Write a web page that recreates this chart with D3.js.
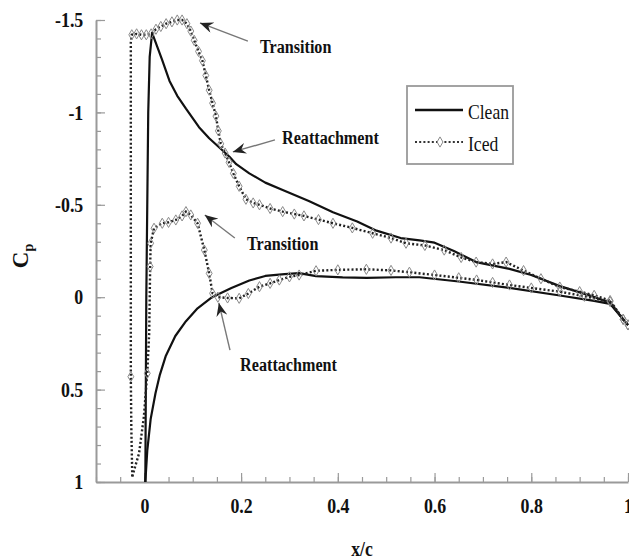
<!DOCTYPE html>
<html>
<head>
<meta charset="utf-8">
<script src="https://cdn.jsdelivr.net/npm/d3@7"></script>
<style>
  body { margin: 0; background: #fff; }
</style>
</head>
<body>
<svg id="chart" width="629" height="559"></svg>
<script>
// tick labels
const xTicks = [0, 0.2, 0.4, 0.6, 0.8, 1];
const yTicks = [-1.5, -1, -0.5, 0, 0.5, 1];

// [x/c, Cp]
const cleanUpper = [[0.002,1.0],[0.003,0.5],[0.004,0],[0.006,-0.5],[0.008,-1.0],[0.011,-1.3],[0.016,-1.43],
  [0.026,-1.36],[0.036,-1.29],[0.052,-1.17],[0.068,-1.09],[0.086,-1.02],[0.113,-0.92],[0.134,-0.86],
  [0.155,-0.81],[0.176,-0.76],[0.19,-0.72],[0.217,-0.67],[0.25,-0.62],[0.286,-0.58],[0.34,-0.52],
  [0.39,-0.46],[0.44,-0.41],[0.48,-0.36],[0.53,-0.32],[0.569,-0.307],[0.6,-0.295],[0.64,-0.25],
  [0.686,-0.19],[0.755,-0.153],[0.8,-0.12],[0.859,-0.06],[0.92,-0.01],[0.963,0.03],[0.99,0.12],[1.0,0.15]];

const cleanLower = [[0.002,1.0],[0.006,0.83],[0.013,0.66],[0.023,0.52],[0.032,0.42],[0.044,0.32],[0.064,0.21],
  [0.086,0.13],[0.11,0.06],[0.14,0.0],[0.18,-0.05],[0.217,-0.09],[0.25,-0.115],[0.29,-0.125],[0.32,-0.13],
  [0.355,-0.114],[0.41,-0.107],[0.46,-0.105],[0.52,-0.108],[0.569,-0.108],[0.65,-0.085],[0.755,-0.05],
  [0.859,-0.009],[0.93,0.02],[0.963,0.036],[0.99,0.12],[1.0,0.15]];

const icedUpper = [[-0.025,0.97],[-0.027,0.7],[-0.028,0.43],[-0.028,0],[-0.028,-0.5],[-0.028,-1.0],[-0.028,-1.38],
  [-0.026,-1.42],[-0.016,-1.425],[-0.006,-1.42],[0.004,-1.42],[0.014,-1.425],[0.024,-1.45],[0.034,-1.465],
  [0.045,-1.48],[0.057,-1.49],[0.068,-1.5],[0.078,-1.5],[0.088,-1.48],[0.096,-1.44],[0.103,-1.39],
  [0.112,-1.33],[0.12,-1.28],[0.127,-1.2],[0.134,-1.12],[0.141,-1.05],[0.148,-0.98],[0.153,-0.9],
  [0.158,-0.83],[0.167,-0.78],[0.175,-0.73],[0.184,-0.67],[0.196,-0.6],[0.21,-0.53],[0.225,-0.51],
  [0.238,-0.5],[0.26,-0.48],[0.286,-0.463],[0.31,-0.45],[0.33,-0.44],[0.36,-0.42],[0.39,-0.4],
  [0.43,-0.375],[0.472,-0.346],[0.51,-0.32],[0.541,-0.292],[0.58,-0.28],[0.62,-0.255],[0.655,-0.215],
  [0.686,-0.19],[0.72,-0.18],[0.748,-0.19],[0.784,-0.144],[0.82,-0.1],[0.859,-0.055],[0.9,-0.03],
  [0.93,-0.01],[0.963,0.018],[0.99,0.12],[1.0,0.15]];

const icedLower = [[-0.025,0.97],[-0.011,0.845],[-0.001,0.646],[0.006,0.412],[0.01,0.195],[0.012,-0.166],
  [0.013,-0.292],[0.02,-0.373],[0.037,-0.4],[0.05,-0.405],[0.065,-0.418],[0.078,-0.44],[0.086,-0.463],
  [0.096,-0.445],[0.11,-0.4],[0.124,-0.255],[0.134,-0.129],[0.141,-0.021],[0.152,0.0],[0.172,0.004],
  [0.196,0.006],[0.215,-0.02],[0.238,-0.057],[0.26,-0.075],[0.279,-0.093],[0.3,-0.11],[0.32,-0.12],
  [0.355,-0.143],[0.4,-0.148],[0.459,-0.151],[0.51,-0.145],[0.548,-0.135],[0.6,-0.12],[0.65,-0.105],
  [0.687,-0.093],[0.72,-0.08],[0.755,-0.066],[0.8,-0.05],[0.859,-0.03],[0.91,-0.005],[0.963,0.024],
  [0.99,0.12],[1.0,0.15]];

// annotations: label, text anchor point, arrow tail, arrow tip (data units)
const annoLabels = ["Transition", "Reattachment", "Transition", "Reattachment"];
const annoText = [[0.239,-1.321],[0.2846,-0.829],[0.212,-0.255],[0.198,0.399]];
const annoFrom = [[0.214,-1.386],[0.27,-0.851],[0.187,-0.32],[0.177,0.286]];
const annoTo   = [[0.115,-1.484],[0.183,-0.786],[0.125,-0.445],[0.154,0.031]];

const serif = '"Liberation Serif", "Times New Roman", Times, serif';
const svg = d3.select("#chart");
const axisColor = "#9a9a9a";

const x = d3.scaleLinear().domain([-0.1, 1]).range([96, 628]);
const y = d3.scaleLinear().domain([-1.5, 1]).range([20, 482]);

function styleText(sel, size, weight) {
  sel.style("font-family", serif)
    .style("font-weight", weight || "bold")
    .style("font-size", size + "px")
    .style("fill", "#111");
}

// minor ticks
svg.append("g")
  .attr("transform", `translate(0,${y(1)})`)
  .call(d3.axisBottom(x).tickValues(d3.range(-0.1, 1.001, 0.05)).tickSize(-5).tickFormat(""))
  .call(g => g.select(".domain").remove())
  .call(g => g.selectAll("line").attr("stroke", axisColor).attr("stroke-width", 1.2));
svg.append("g")
  .attr("transform", `translate(${x(-0.1)},0)`)
  .call(d3.axisLeft(y).tickValues(d3.range(-1.5, 1.001, 0.1)).tickSize(-5).tickFormat(""))
  .call(g => g.select(".domain").remove())
  .call(g => g.selectAll("line").attr("stroke", axisColor).attr("stroke-width", 1.2));

// major axes
svg.append("g")
  .attr("transform", `translate(0,${y(1)})`)
  .call(d3.axisBottom(x).tickValues(xTicks).tickSize(-9).tickSizeOuter(0).tickPadding(16).tickFormat(d => String(d)))
  .call(g => g.select(".domain").attr("stroke", axisColor).attr("stroke-width", 2))
  .call(g => g.selectAll("line").attr("stroke", axisColor).attr("stroke-width", 1.2))
  .call(g => g.selectAll("text").call(styleText, 21).attr("transform", "scale(0.85,1)"));

svg.append("g")
  .attr("transform", `translate(${x(-0.1)},0)`)
  .call(d3.axisLeft(y).tickValues(yTicks).tickSize(-9).tickSizeOuter(0).tickPadding(15).tickFormat(d => String(d)))
  .call(g => g.select(".domain").attr("stroke", axisColor).attr("stroke-width", 2))
  .call(g => g.selectAll("line").attr("stroke", axisColor).attr("stroke-width", 1.2))
  .call(g => g.selectAll("text").call(styleText, 21).attr("transform", "scale(0.85,1)"));

// axis titles
svg.append("text")
  .attr("transform", `translate(362,556) scale(0.88,1)`)
  .attr("text-anchor", "middle")
  .call(styleText, 20)
  .text("x/c");

const yt = svg.append("text")
  .attr("transform", "translate(28,256) rotate(-90)")
  .attr("text-anchor", "middle")
  .call(styleText, 23);
yt.append("tspan").text("C");
yt.append("tspan").style("font-size", "14px").attr("dy", 5).text("p");

// curves
const line = d3.line().x(d => x(d[0])).y(d => y(d[1]));

svg.append("g").selectAll("path.clean")
  .data([cleanUpper, cleanLower])
  .join("path")
  .attr("class", "clean")
  .attr("d", line)
  .attr("fill", "none")
  .attr("stroke", "#111")
  .attr("stroke-width", 2.2)
  .attr("stroke-linejoin", "round");

svg.append("g").selectAll("path.iced")
  .data([icedUpper, icedLower])
  .join("path")
  .attr("class", "iced")
  .attr("d", line)
  .attr("fill", "none")
  .attr("stroke", "#222")
  .attr("stroke-width", 2.4)
  .attr("stroke-dasharray", "2,2.2");

const diamond = d3.symbol().type(d3.symbolDiamond).size(30);
svg.append("g").selectAll("path.mark")
  .data(icedUpper.slice(7).concat(icedLower.slice(5), [icedUpper[2], icedLower[3]]))
  .join("path")
  .attr("class", "mark")
  .attr("transform", d => `translate(${x(d[0])},${y(d[1])})`)
  .attr("d", diamond)
  .attr("fill", "none")
  .attr("stroke", "#8a8a8a")
  .attr("stroke-width", 1);

// annotations
svg.append("defs").append("marker")
  .attr("id", "head")
  .attr("viewBox", "0 0 12 10")
  .attr("refX", 12).attr("refY", 5)
  .attr("markerWidth", 14).attr("markerHeight", 11)
  .attr("markerUnits", "userSpaceOnUse")
  .attr("orient", "auto")
  .append("path")
  .attr("d", "M12,5 L0,0 L4,5 L0,10 Z")
  .attr("fill", "#222");

const ann = svg.append("g").selectAll("g")
  .data(annoLabels.map((t, i) => ({ t, p: annoText[i], a: annoFrom[i], b: annoTo[i] })))
  .join("g");
ann.append("line")
  .attr("x1", d => x(d.a[0])).attr("y1", d => y(d.a[1]))
  .attr("x2", d => x(d.b[0])).attr("y2", d => y(d.b[1]))
  .attr("stroke", "#777").attr("stroke-width", 1.4)
  .attr("marker-end", "url(#head)");
ann.append("text")
  .attr("transform", d => `translate(${x(d.p[0])},${y(d.p[1])}) scale(0.85,1)`)
  .call(styleText, 19)
  .text(d => d.t);

// legend
const lg = svg.append("g").attr("transform", "translate(407,86)");
lg.append("rect").attr("width", 106).attr("height", 78)
  .attr("fill", "#fff").attr("stroke", axisColor).attr("stroke-width", 1.8);
lg.append("line").attr("x1", 8).attr("x2", 56).attr("y1", 24).attr("y2", 24)
  .attr("stroke", "#111").attr("stroke-width", 2.4);
lg.append("line").attr("x1", 8).attr("x2", 56).attr("y1", 56).attr("y2", 56)
  .attr("stroke", "#333").attr("stroke-width", 2.2).attr("stroke-dasharray", "2,2.2");
lg.append("path").attr("transform", "translate(33,56)").attr("d", diamond)
  .attr("fill", "#fff").attr("stroke", "#8a8a8a");
lg.append("text").attr("transform", "translate(61,33) scale(0.8,1)")
  .call(styleText, 22, "normal").text("Clean");
lg.append("text").attr("transform", "translate(61,65) scale(0.8,1)")
  .call(styleText, 22, "normal").text("Iced");
</script>
</body>
</html>
